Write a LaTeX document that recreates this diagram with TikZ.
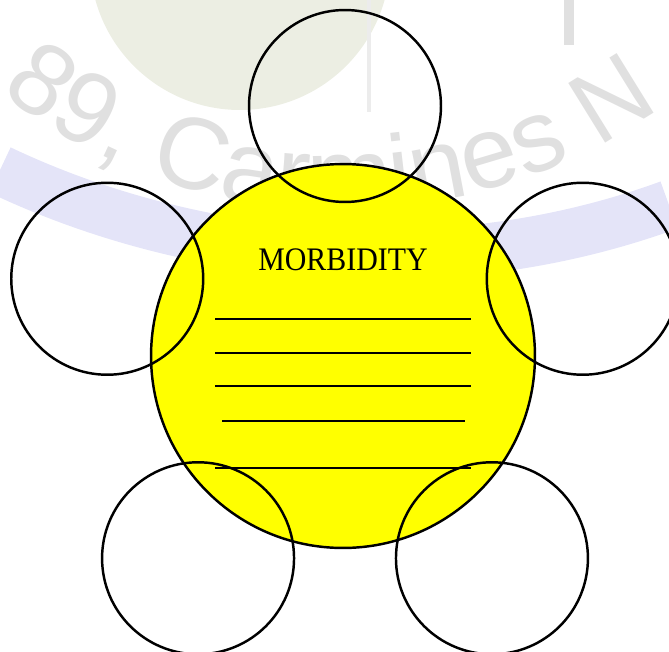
\documentclass[tikz,border=0pt]{standalone}
\usepackage{fontspec}
\setmainfont{Liberation Serif}
\setsansfont{Liberation Sans}
\usetikzlibrary{calc,decorations.text}

\definecolor{hubyellow}{RGB}{255,255,0}
\definecolor{washdisk}{RGB}{236,238,227}
\definecolor{washband}{RGB}{228,228,248}
\definecolor{washtext}{RGB}{224,224,224}

\tikzset{
  hub/.style={draw,circle,fill=hubyellow,line width=1.4pt,minimum size=7.68cm,inner sep=0pt},
  petal/.style={draw,circle,line width=1.4pt,minimum size=3.84cm,inner sep=0pt},
  blank/.style={line width=0.9pt},
}

\begin{document}
\begin{tikzpicture}[x=0.02cm,y=-0.02cm]
  \useasboundingbox (0,0) rectangle (669,652);
  \clip (0,0) rectangle (669,652);

  % faint logo behind the diagram
  \draw[washband,line width=1cm] (0,170) .. controls (200,265) and (450,285) .. (669,205);
  \fill[washdisk] (240,-40) circle (150);
  \draw[washtext!60!white,line width=2pt] (369,0) -- (369,112);
  \draw[washtext,line width=6pt] (569,0) -- (569,45);
  \path[decorate,decoration={text along path,text align=left,
      text={|\fontsize{58}{58}\sffamily\color{washtext}|89, Carmines N}}]
    (340,-340) ++(128.2:550) arc (128.2:42:550);

  % centre circle
  \node[hub] (morbidity) at (343,356) {};
  \coordinate (ring) at (345,356);
  \node[anchor=base,font=\fontsize{17}{20}\selectfont] (title) at (343,270)
    {\scalebox{1}[1.1]{MORBIDITY}};

  % outer circles
  \foreach \a/\n in {-90/top,-162/left,-18/right,126/botleft,54/botright}
    \node[petal] (\n) at ($(ring)+(\a:250)$) {};

  % writing lines
  \foreach \y in {319,353,386,468}
    \draw[blank] (215,\y) -- (471,\y);
  \draw[blank] (222,421) -- (465,421);
\end{tikzpicture}
\end{document}
